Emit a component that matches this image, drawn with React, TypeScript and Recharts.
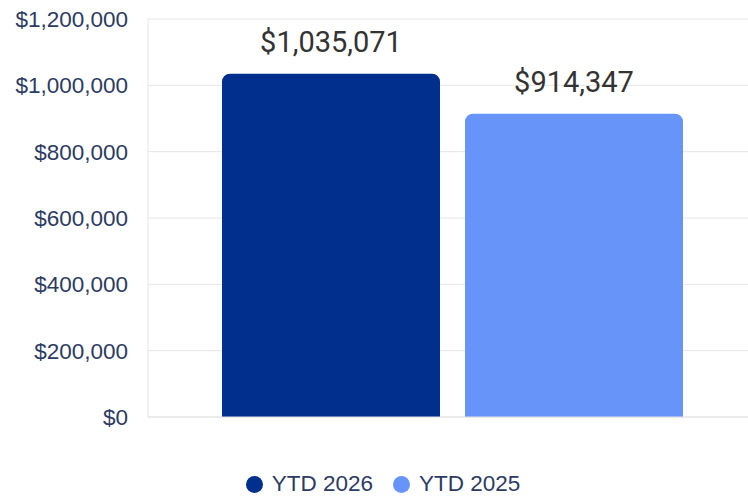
import React from "react"
import { BarChart, Bar, XAxis, YAxis, CartesianGrid, Legend, LabelList } from "recharts"

// 데이터
const categories = ["YTD"]
const ytd2026 = [1035071]
const ytd2025 = [914347]
const yTicks = [0, 200000, 400000, 600000, 800000, 1000000, 1200000]

const seriesNames = ["YTD 2026", "YTD 2025"]
const seriesColors = ["#002f8e", "#6694f8"]

const data = categories.map((name, i) => ({
  name,
  y2026: ytd2026[i],
  y2025: ytd2025[i],
}))

const money = (v: number) => "$" + v.toLocaleString("en-US")

const axisFont = "'Liberation Sans', Arial, sans-serif"
const axisColor = "#2d3b63"

function LegendContent() {
  return (
    <div
      style={{
        display: "flex",
        justifyContent: "center",
        alignItems: "center",
        height: 24,
        fontFamily: axisFont,
        fontSize: 22.5,
        color: axisColor,
        paddingLeft: 10,
      }}
    >
      {seriesNames.map((n, i) => (
        <div key={n} style={{ display: "flex", alignItems: "center", marginRight: i === 0 ? 20 : 0 }}>
          <span
            style={{
              width: 17,
              height: 17,
              borderRadius: "50%",
              background: seriesColors[i],
              display: "inline-block",
              marginRight: 9,
            }}
          />
          <span>{n}</span>
        </div>
      ))}
    </div>
  )
}

export default function App() {
  return (
    <div
      style={{
        position: "absolute",
        top: 0,
        left: 0,
        width: 748,
        height: 496,
        overflow: "hidden",
        background: "#fff",
      }}
    >
      <BarChart
        width={756}
        height={496}
        data={data}
        margin={{ top: 19, right: 0, bottom: 0, left: 0 }}
        barSize={218}
        barGap={25}
      >
        <CartesianGrid vertical={false} stroke="#e6e6e6" />
        <XAxis
          dataKey="name"
          height={55}
          tick={false}
          tickLine={false}
          axisLine={{ stroke: "#e2e2e2" }}
        />
        <YAxis
          width={148}
          domain={[0, 1200000]}
          ticks={yTicks}
          tickFormatter={money}
          tickLine={false}
          axisLine={{ stroke: "#e6e6e6" }}
          tickMargin={14}
          tick={{ fill: axisColor, fontSize: 22.5, fontFamily: axisFont }}
        />
        <Legend verticalAlign="bottom" height={24} content={<LegendContent />} />
        <Bar dataKey="y2026" name={seriesNames[0]} fill={seriesColors[0]} radius={[8, 8, 0, 0]} isAnimationActive={false}>
          <LabelList
            dataKey="y2026"
            position="top"
            offset={22}
            formatter={(v: any) => money(v as number)}
            style={{ fill: "#333333", fontSize: 29, fontFamily: "Roboto, sans-serif" }}
          />
        </Bar>
        <Bar dataKey="y2025" name={seriesNames[1]} fill={seriesColors[1]} radius={[8, 8, 0, 0]} isAnimationActive={false}>
          <LabelList
            dataKey="y2025"
            position="top"
            offset={22}
            formatter={(v: any) => money(v as number)}
            style={{ fill: "#333333", fontSize: 29, fontFamily: "Roboto, sans-serif" }}
          />
        </Bar>
      </BarChart>
    </div>
  )
}
